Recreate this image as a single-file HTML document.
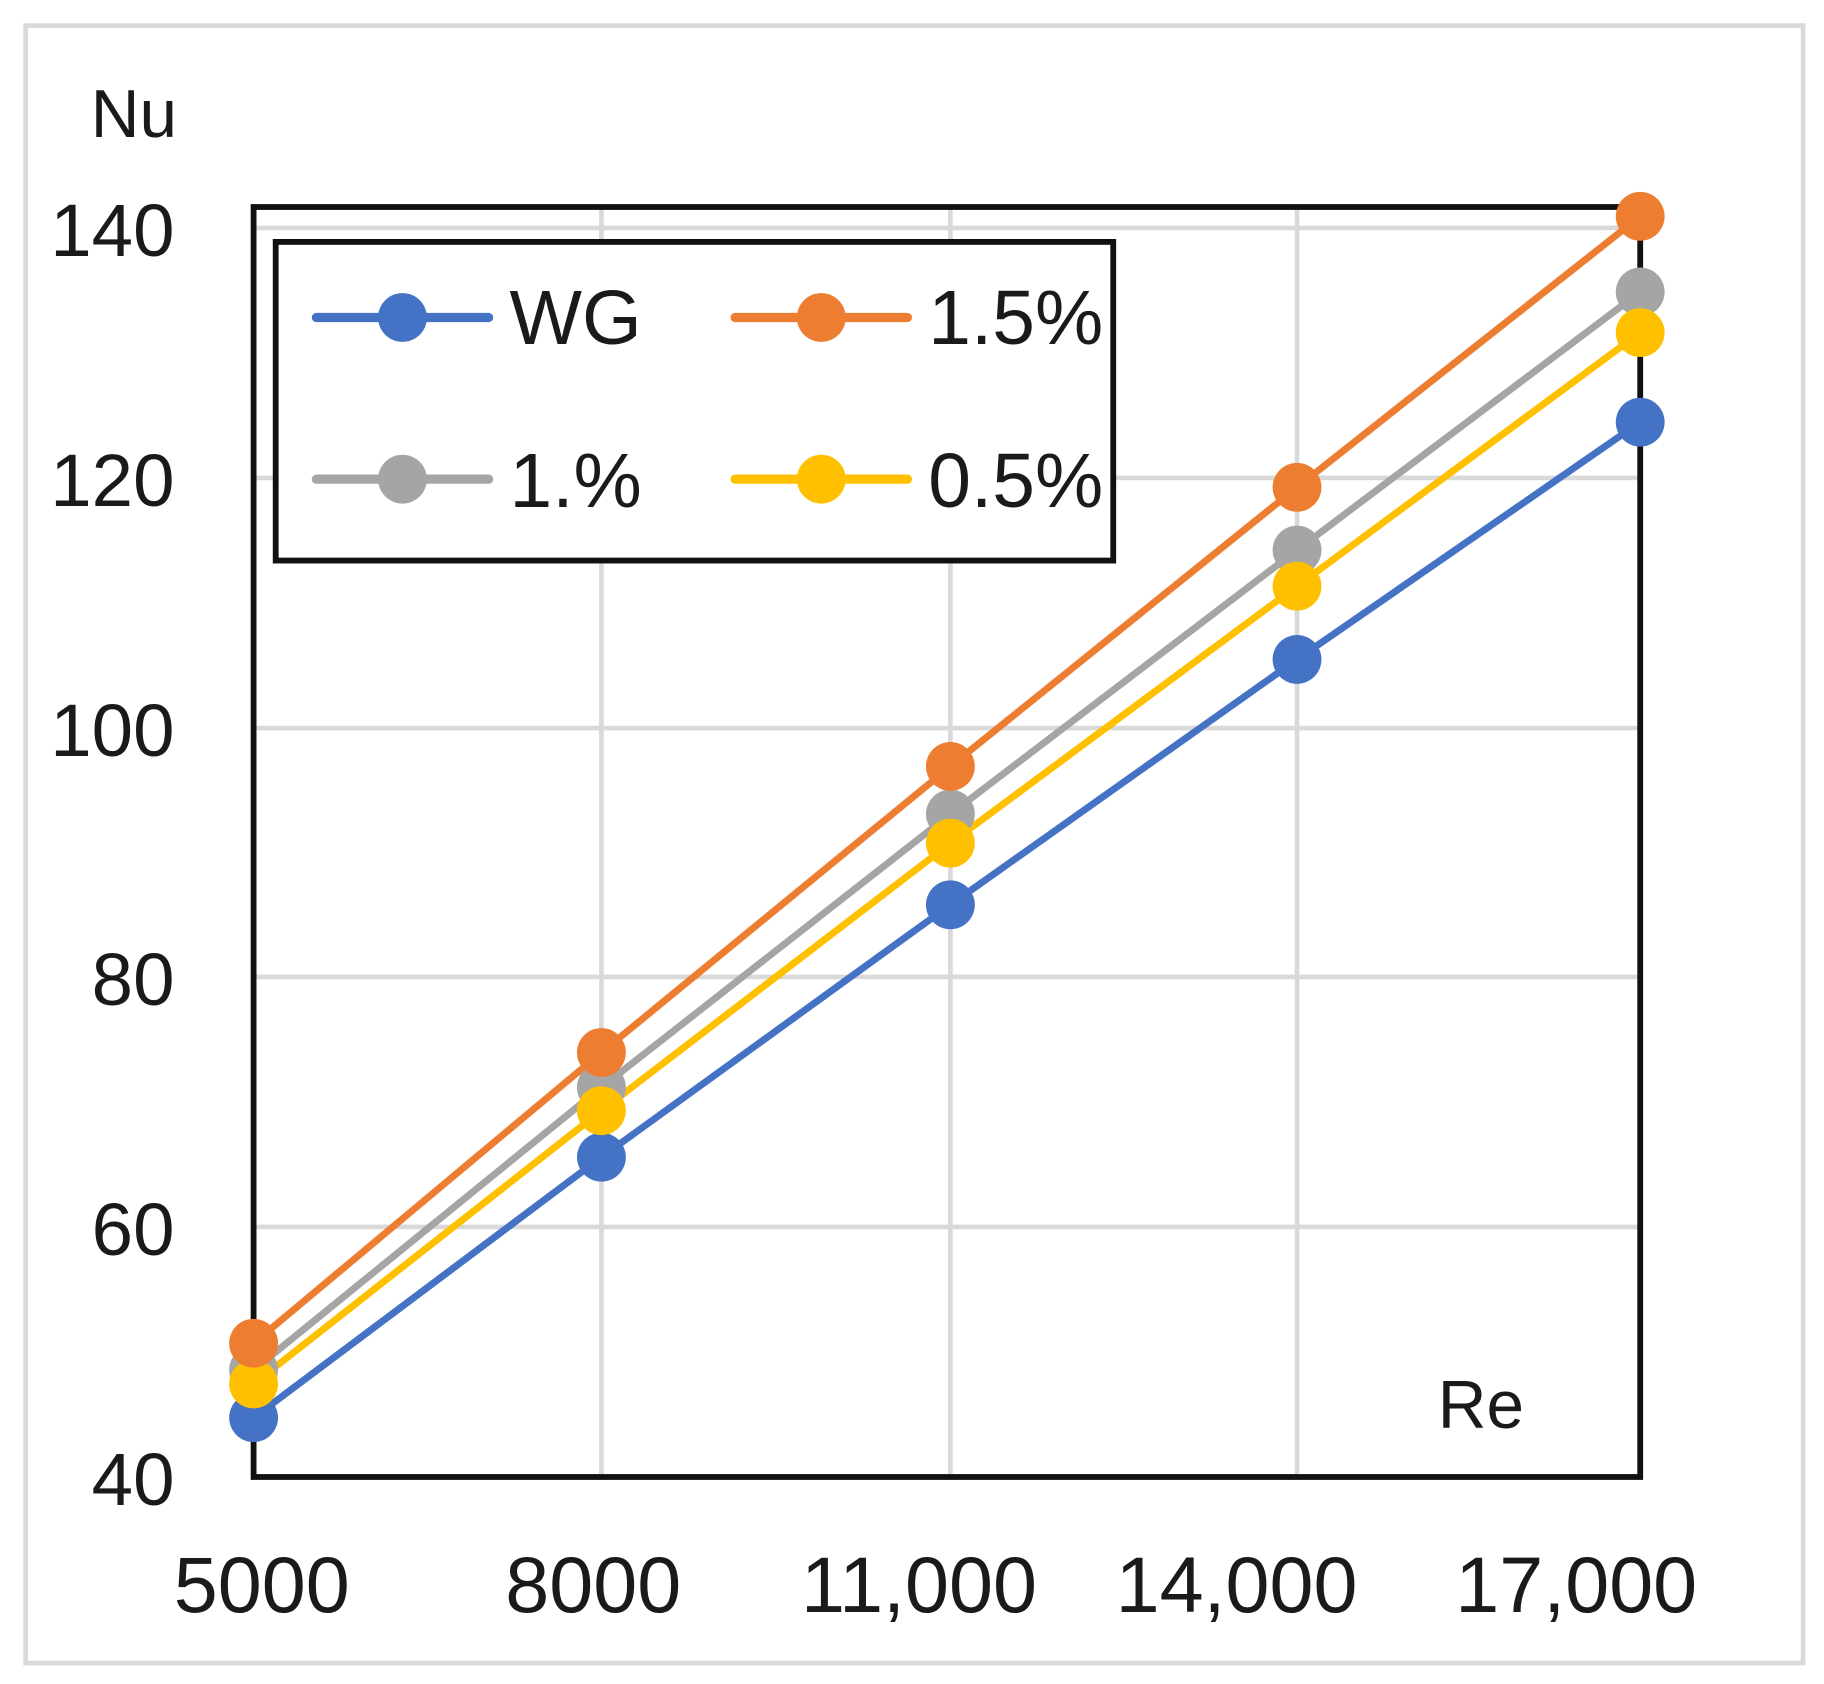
<!DOCTYPE html>
<html><head><meta charset="utf-8"><style>
html,body{margin:0;padding:0;background:#fff;}
svg{display:block;}
text{font-family:"Liberation Sans",sans-serif;fill:#1a1a1a;}
</style></head><body>
<svg width="1824" height="1684" viewBox="0 0 1568 1448" preserveAspectRatio="none" xmlns="http://www.w3.org/2000/svg">
<rect x="0" y="0" width="1568" height="1448" fill="#fff"/>
<rect x="22" y="22" width="1528" height="1408" fill="none" stroke="#d9d9d9" stroke-width="4"/>
<g stroke="#d9d9d9" stroke-width="4">
<line x1="218" y1="196" x2="1410" y2="196"/>
<line x1="218" y1="411" x2="1410" y2="411"/>
<line x1="218" y1="626" x2="1410" y2="626"/>
<line x1="218" y1="840" x2="1410" y2="840"/>
<line x1="218" y1="1055" x2="1410" y2="1055"/>
<line x1="517" y1="178" x2="517" y2="1270"/>
<line x1="817" y1="178" x2="817" y2="1270"/>
<line x1="1115" y1="178" x2="1115" y2="1270"/>
</g>
<rect x="218" y="178" width="1192" height="1092" fill="none" stroke="#111" stroke-width="5"/>
<g stroke-width="6" fill="none">
<polyline stroke="#4472c4" points="218,1219 517,995 817,778 1115,567 1410,363"/>
<polyline stroke="#a5a5a5" points="218,1178 517,935 817,700 1115,473 1410,251"/>
<polyline stroke="#ffc000" points="218,1190 517,955 817,725 1115,504 1410,286"/>
<polyline stroke="#ed7d31" points="218,1155 517,905 817,659 1115,419 1410,186"/>
</g>
<g fill="#4472c4"><circle cx="218" cy="1219" r="21"/><circle cx="517" cy="995" r="21"/><circle cx="817" cy="778" r="21"/><circle cx="1115" cy="567" r="21"/><circle cx="1410" cy="363" r="21"/></g>
<g fill="#a5a5a5"><circle cx="218" cy="1178" r="21"/><circle cx="517" cy="935" r="21"/><circle cx="817" cy="700" r="21"/><circle cx="1115" cy="473" r="21"/><circle cx="1410" cy="251" r="21"/></g>
<g fill="#ffc000"><circle cx="218" cy="1190" r="21"/><circle cx="517" cy="955" r="21"/><circle cx="817" cy="725" r="21"/><circle cx="1115" cy="504" r="21"/><circle cx="1410" cy="286" r="21"/></g>
<g fill="#ed7d31"><circle cx="218" cy="1155" r="21"/><circle cx="517" cy="905" r="21"/><circle cx="817" cy="659" r="21"/><circle cx="1115" cy="419" r="21"/><circle cx="1410" cy="186" r="21"/></g>
<rect x="237" y="208" width="720" height="274" fill="#fff" stroke="#111" stroke-width="5"/>
<g stroke-width="8" stroke-linecap="round">
<line x1="272" y1="273" x2="420" y2="273" stroke="#4472c4"/>
<line x1="632" y1="273" x2="780" y2="273" stroke="#ed7d31"/>
<line x1="272" y1="412" x2="420" y2="412" stroke="#a5a5a5"/>
<line x1="632" y1="412" x2="780" y2="412" stroke="#ffc000"/>
</g>
<circle cx="346" cy="273" r="21" fill="#4472c4"/>
<circle cx="706" cy="273" r="21" fill="#ed7d31"/>
<circle cx="346" cy="412" r="21" fill="#a5a5a5"/>
<circle cx="706" cy="412" r="21" fill="#ffc000"/>
<g font-size="66">
<text x="438" y="296">WG</text>
<text x="798" y="296">1.5%</text>
<text x="438" y="436">1.%</text>
<text x="798" y="436">0.5%</text>
</g>
<g font-size="64" text-anchor="end">
<text x="150" y="220">140</text>
<text x="150" y="435">120</text>
<text x="150" y="650">100</text>
<text x="150" y="864">80</text>
<text x="150" y="1079">60</text>
<text x="150" y="1294">40</text>
</g>
<g font-size="68" text-anchor="middle">
<text x="225" y="1386">5000</text>
<text x="510" y="1386">8000</text>
<text x="790" y="1386">11,000</text>
<text x="1063" y="1386">14,000</text>
<text x="1355" y="1386">17,000</text>
</g>
<text x="78" y="118" font-size="58">Nu</text>
<text x="1236" y="1228" font-size="58">Re</text>
</svg>
</body></html>
